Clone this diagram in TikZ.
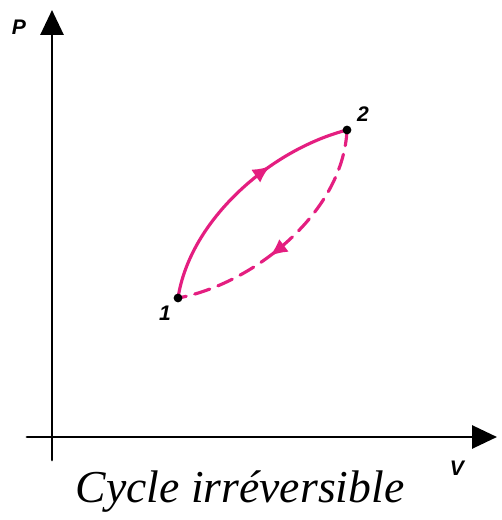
\documentclass[tikz,border=0pt]{standalone}
\usepackage{fontspec}
\setmainfont{Liberation Serif}
\newfontfamily\axisfont{Liberation Sans}
\usetikzlibrary{arrows.meta,decorations.markings}
\definecolor{cyclepink}{RGB}{228,30,128}
\begin{document}
\begin{tikzpicture}[x=0.02cm, y=0.02cm, line join=round, line cap=round,
	axis/.style={line width=1.6pt, -{Triangle[length=0.5cm, width=0.46cm]}},
	pt/.style={circle, fill=black, inner sep=0pt, minimum size=5pt},
	lbl/.style={font=\axisfont\bfseries\itshape\large},
	path/.style={cyclepink, line width=1.8pt},
	midarrow/.style={postaction={decorate}, decoration={markings,
		mark=at position #1 with {\arrow[cyclepink, solid]{Latex[length=10pt, width=9pt]}}}}]
	\useasboundingbox (0,0) rectangle (501,520);
	% Les points
	\path
	(52,60) coordinate (O1)
	(52,510) coordinate (Ptop)
	(27,83) coordinate (O2)
	(497,83) coordinate (Vend)
	(178,222) coordinate (A)
	(347,390) coordinate (B);
	% Les axes
	\draw[axis] (O1) -- (Ptop);
	\draw[axis] (O2) -- (Vend);
	\node[lbl] (P) at (19,493) {P};
	\node[lbl] (V) at (457,52) {V};
	% Le cycle
	\draw[path, midarrow=0.66] (A) .. controls (190,300) and (270,370) .. (B);
	\draw[path, dash pattern=on 9pt off 5pt, midarrow=0.6] (B) .. controls (343,305) and (250,235) .. (A);
	\node[pt] (p1) at (A) {};
	\node[pt] (p2) at (B) {};
	\node[lbl] (n1) at (165,207) {1};
	\node[lbl] (n2) at (363,406) {2};
	% Titre
	\node[font=\itshape\fontsize{26}{30}\selectfont] (titre) at (240,28) {Cycle irréversible};
\end{tikzpicture}
\end{document}
